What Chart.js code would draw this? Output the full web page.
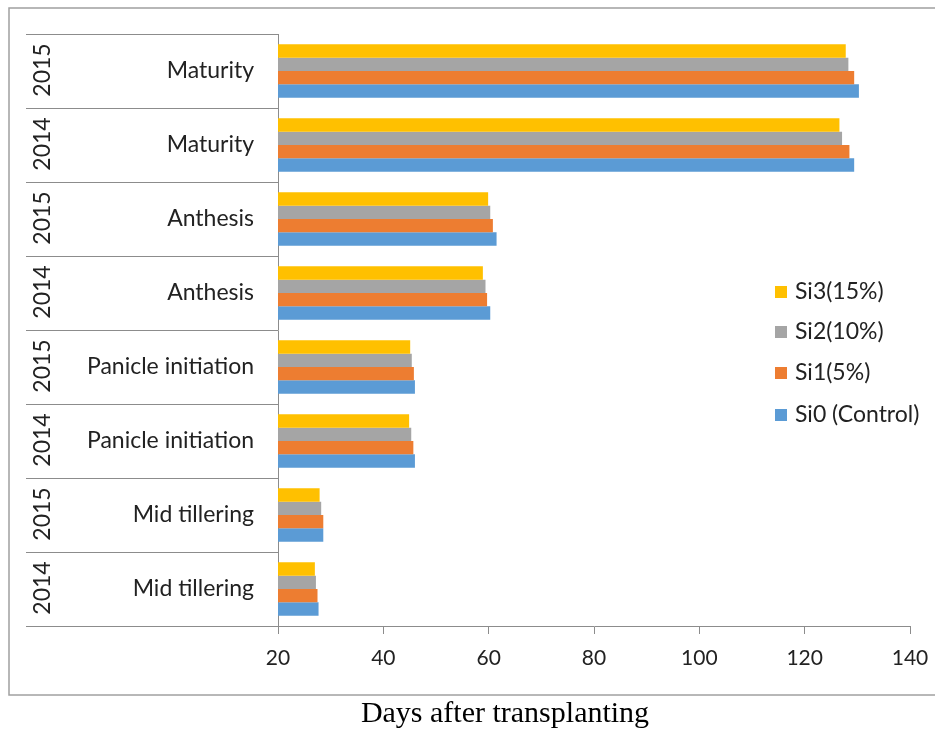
<!DOCTYPE html>
<html>
<head>
<meta charset="utf-8">
<script src="https://cdn.jsdelivr.net/npm/chart.js@4/dist/chart.umd.min.js"></script>
<style>
  html, body { margin: 0; padding: 0; background: #fff; }
  #wrap { width: 935px; height: 732px; position: relative; }
</style>
</head>
<body>
<div id="wrap"><canvas id="growthChart" width="935" height="732"></canvas></div>
<script>
// categories, top to bottom
const years  = ['2015', '2014', '2015', '2014', '2015', '2014', '2015', '2014'];
const stages = ['Maturity', 'Maturity', 'Anthesis', 'Anthesis',
                'Panicle initiation', 'Panicle initiation', 'Mid tillering', 'Mid tillering'];

// series (days after transplanting)
const si3 = [127.8, 126.6, 59.9, 58.9, 45.1, 44.9, 27.9, 27.0];
const si2 = [128.3, 127.1, 60.3, 59.4, 45.4, 45.3, 28.2, 27.2];
const si1 = [129.4, 128.5, 60.8, 59.7, 45.8, 45.7, 28.6, 27.5];
const si0 = [130.3, 129.4, 61.5, 60.3, 46.0, 46.0, 28.6, 27.7];

const seriesNames = ['Si3(15%)', 'Si2(10%)', 'Si1(5%)', 'Si0 (Control)'];
const xTicks = [20, 40, 60, 80, 100, 120, 140];
const axisTitle = 'Days after transplanting';

const colors = ['#FFC000', '#A5A5A5', '#ED7D31', '#5B9BD5'];
const lineColor = '#8c8c8c';
const labelFont = '23px Lato, "Open Sans", sans-serif';

// frame, category dividers, year labels, legend and axis title
const decorPlugin = {
    id: 'decor',
    afterDraw(chart) {
        const ctx = chart.ctx;
        const y = chart.scales.y;
        const area = chart.chartArea;
        ctx.save();

        // outer frame
        ctx.strokeStyle = '#a0a0a0';
        ctx.lineWidth = 1.5;
        ctx.strokeRect(9, 8, 940, 687);

        // divider lines between categories
        ctx.strokeStyle = lineColor;
        ctx.lineWidth = 1;
        const n = chart.data.labels.length;
        const step = n > 1 ? y.getPixelForValue(1) - y.getPixelForValue(0) : 0;
        for (let i = 0; i <= n; i++) {
            const py = Math.round(y.getPixelForValue(i) - step / 2) + 0.5;
            ctx.beginPath();
            ctx.moveTo(26, py);
            ctx.lineTo(area.left, py);
            ctx.stroke();
        }

        // year labels, rotated
        ctx.fillStyle = '#222';
        ctx.font = labelFont;
        ctx.textAlign = 'center';
        ctx.textBaseline = 'middle';
        years.forEach((yr, i) => {
            ctx.save();
            ctx.translate(43, y.getPixelForValue(i) - 1);
            ctx.rotate(-Math.PI / 2);
            ctx.fillText(yr, 0, 0);
            ctx.restore();
        });

        // legend
        const legendY = [292, 332, 373, 415];
        ctx.textAlign = 'left';
        chart.data.datasets.forEach((ds, i) => {
            ctx.fillStyle = ds.backgroundColor;
            ctx.fillRect(775, legendY[i] - 6, 12, 12);
            ctx.fillStyle = '#222';
            ctx.fillText(ds.label, 795, legendY[i]);
        });

        // x-axis title
        ctx.font = '30px "Liberation Serif", "Times New Roman", serif';
        ctx.fillStyle = '#000';
        ctx.textAlign = 'center';
        ctx.fillText(axisTitle, 505, 714);

        ctx.restore();
    }
};

const ctx = document.getElementById('growthChart').getContext('2d');
const growthChart = new Chart(ctx, {
    type: 'bar',
    data: {
        labels: stages,
        datasets: [si3, si2, si1, si0].map((d, i) => ({
            label: seriesNames[i],
            data: d,
            backgroundColor: colors[i],
            borderWidth: 0,
            categoryPercentage: 0.72,
            barPercentage: 1.0
        }))
    },
    options: {
        indexAxis: 'y',
        responsive: false,
        animation: false,
        layout: { padding: { top: 34, right: 25, left: 0, bottom: 0 } },
        plugins: {
            legend: { display: false },
            tooltip: { enabled: false }
        },
        scales: {
            x: {
                min: 20,
                max: 140,
                afterBuildTicks(scale) {
                    scale.ticks = xTicks.map(v => ({ value: v }));
                },
                afterFit(scale) {
                    scale.height = 106;
                    scale.paddingLeft = 0;
                    scale.paddingRight = 0;
                },
                grid: {
                    drawOnChartArea: false,
                    drawTicks: true,
                    tickLength: 8,
                    color: lineColor
                },
                border: { display: true, color: lineColor, width: 1 },
                ticks: {
                    color: '#222',
                    font: { family: 'Lato, "Open Sans", sans-serif', size: 21 },
                    padding: 12,
                    maxRotation: 0
                }
            },
            y: {
                afterFit(scale) {
                    scale.width = 278;
                    scale.paddingTop = 0;
                    scale.paddingBottom = 0;
                },
                grid: { display: false, drawTicks: false },
                border: { display: true, color: lineColor, width: 1 },
                ticks: {
                    color: '#222',
                    font: { family: 'Lato, "Open Sans", sans-serif', size: 23 },
                    padding: 24
                }
            }
        }
    },
    plugins: [decorPlugin]
});
</script>
</body>
</html>
